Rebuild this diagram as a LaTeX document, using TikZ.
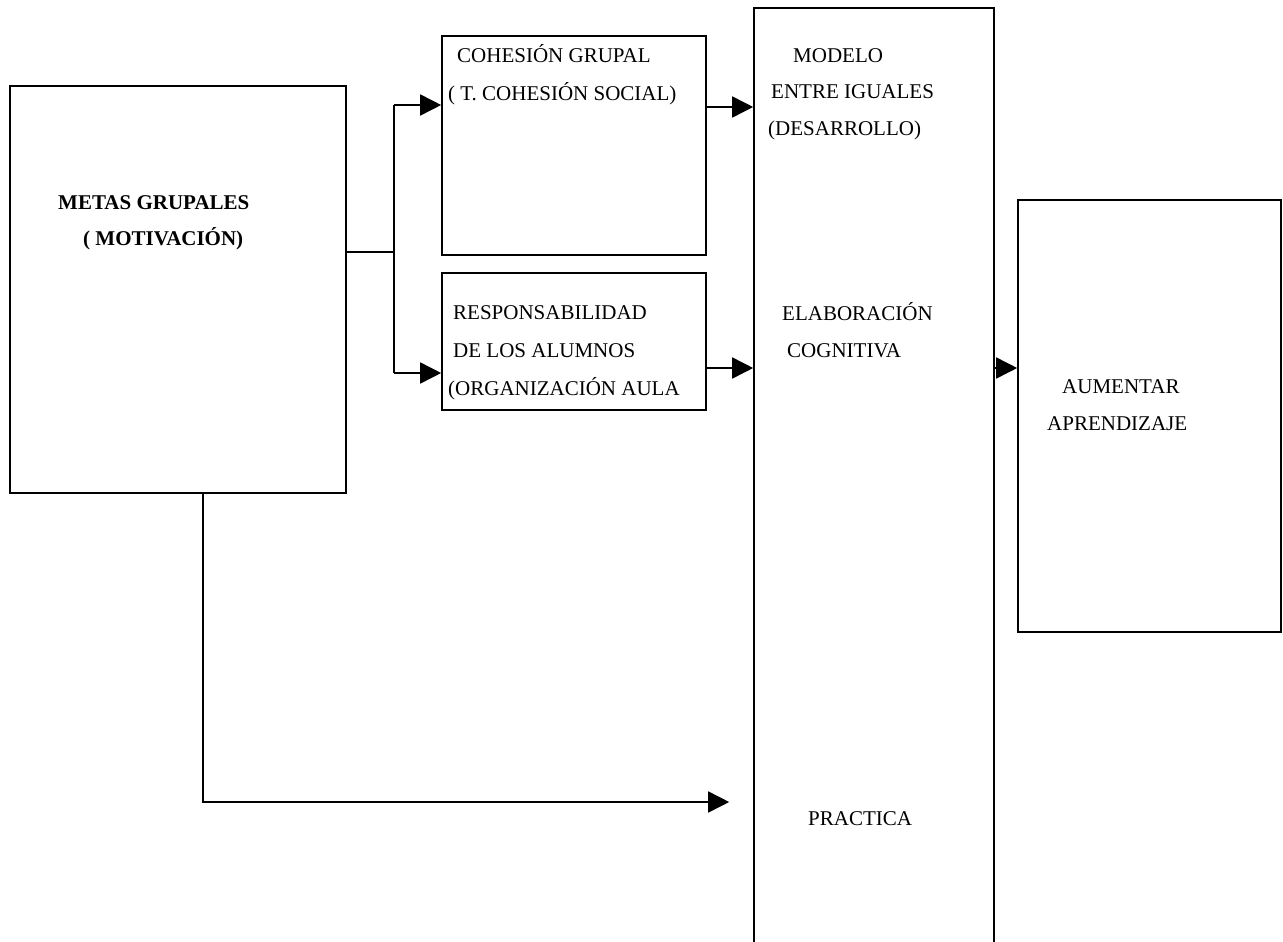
\documentclass[tikz,border=0pt]{standalone}
\usepackage{fontspec}
\setmainfont{Liberation Serif}
\usetikzlibrary{arrows.meta}
\begin{document}
\begin{tikzpicture}[x=1pt,y=-1pt,
  box/.style={draw,line width=1.6pt,rectangle,inner sep=0pt},
  lbl/.style={anchor=base west,inner sep=0pt,font=\fontsize{21}{25}\selectfont},
  blbl/.style={lbl,font=\fontsize{21}{25}\selectfont\bfseries},
  conn/.style={line width=1.6pt},
  arr/.style={conn,-{Triangle[length=21pt,width=21pt]}}]
\clip (0,0) rectangle (1283,942);
\fill[white] (0,0) rectangle (1283,942);
% boxes
\node[box,minimum width=336pt,minimum height=407pt] (meta) at (178,289.5) {};
\node[box,minimum width=264pt,minimum height=219pt] (coh) at (574,145.5) {};
\node[box,minimum width=264pt,minimum height=137pt] (resp) at (574,341.5) {};
\node[box,minimum width=240pt,minimum height=1000pt] (big) at (874,508) {};
\node[box,minimum width=263pt,minimum height=432pt] (aum) at (1149.5,416) {};
% texts
\node[blbl] (t1) at (58,209) {METAS GRUPALES};
\node[blbl] (t2) at (83,245) {( MOTIVACIÓN)};
\node[lbl] (t3) at (457,63) {COHESIÓN GRUPAL};
\node[lbl] (t4) at (448,100) {( T. COHESIÓN SOCIAL)};
\node[lbl] (t5) at (453,319) {RESPONSABILIDAD};
\node[lbl] (t6) at (453,357) {DE LOS ALUMNOS};
\node[lbl] (t7) at (448,395) {(ORGANIZACIÓN AULA};
\node[lbl] (t8) at (793,63) {MODELO};
\node[lbl] (t9) at (771,99) {ENTRE IGUALES};
\node[lbl] (t10) at (768,135) {(DESARROLLO)};
\node[lbl] (t11) at (782,320) {ELABORACIÓN};
\node[lbl] (t12) at (787,357) {COGNITIVA};
\node[lbl] (t13) at (808,825) {PRACTICA};
\node[lbl] (t14) at (1062,393) {AUMENTAR};
\node[lbl] (t15) at (1047,430) {APRENDIZAJE};
% connectors
\coordinate (j1) at (394,252);
\coordinate (jt) at (394,105);
\coordinate (jb) at (394,373);
\coordinate (ca) at (706,107);
\coordinate (cb) at (706,368);
\coordinate (mb) at (203,802);
\draw[conn] (meta.east |- j1) -- (j1);
\draw[conn] (jt) -- (jb);
\draw[arr] (jt) -- (jt -| coh.west);
\draw[arr] (jb) -- (jb -| resp.west);
\draw[arr] (coh.east |- ca) -- (big.west |- ca);
\draw[arr] (resp.east |- cb) -- (big.west |- cb);
\draw[arr] (big.east |- cb) -- (aum.west |- cb);
\draw[arr] (meta.south -| mb) -- (mb) -- ([xshift=-24pt]big.west |- mb);
\end{tikzpicture}
\end{document}
